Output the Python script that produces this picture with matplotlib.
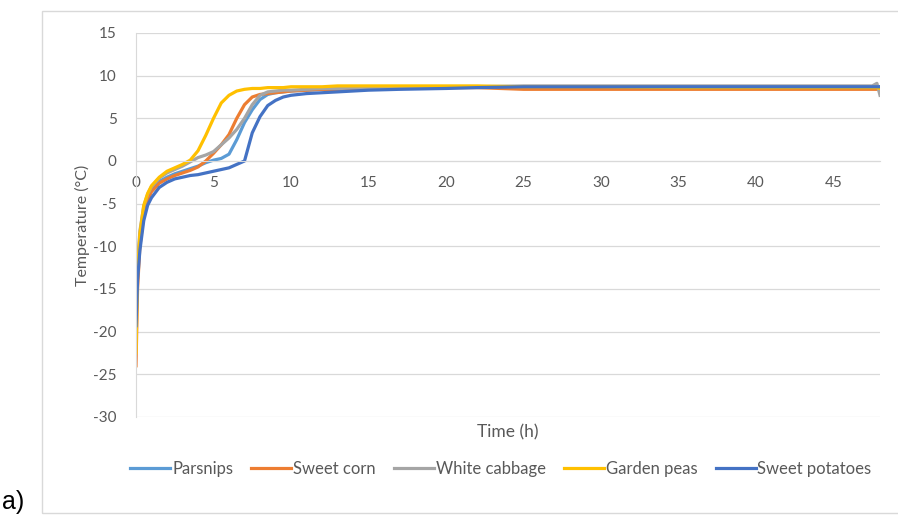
import matplotlib.pyplot as plt
from matplotlib.patches import Rectangle

plt.rcParams['font.family'] = ['Lato', 'DejaVu Sans']
plt.rcParams['axes.unicode_minus'] = False

# time (h) and temperature (°C)
t = [0, 0.1, 0.25, 0.5, 0.75, 1, 1.5, 2, 2.5, 3, 3.5, 4, 4.5, 5, 5.5, 6, 6.5, 7,
     7.5, 8, 8.5, 9, 9.5, 10, 11, 12, 13, 15, 17, 20, 22, 25, 30, 35, 40, 45,
     47.5, 47.8, 48]

parsnips = [-16, -12.5, -9, -5.8, -4.3, -3.4, -2.4, -1.9, -1.5, -1.2, -0.9, -0.6,
            -0.2, 0.1, 0.3, 0.8, 2.5, 4.5, 6.0, 7.2, 7.8, 8.0, 8.1, 8.2, 8.3, 8.4,
            8.4, 8.5, 8.6, 8.6, 8.7, 8.7, 8.7, 8.7, 8.7, 8.7, 8.7, 8.7, 8.7]
sweet_corn = [-24, -15, -10, -6.3, -4.6, -3.6, -2.6, -2.1, -1.7, -1.4, -1.1, -0.7,
              0.0, 0.9, 1.9, 3.1, 5.0, 6.6, 7.5, 7.8, 7.9, 8.0, 8.1, 8.2, 8.3, 8.4,
              8.4, 8.5, 8.5, 8.6, 8.6, 8.4, 8.4, 8.4, 8.4, 8.4, 8.4, 8.4, 8.4]
white_cabbage = [-19, -12, -8.2, -5.3, -3.9, -3.0, -2.0, -1.4, -1.0, -0.6, -0.1, 0.4,
                 0.7, 1.1, 1.9, 2.7, 3.7, 5.0, 6.6, 7.7, 8.1, 8.2, 8.3, 8.3, 8.4, 8.5,
                 8.5, 8.6, 8.6, 8.7, 8.7, 8.8, 8.8, 8.8, 8.8, 8.8, 8.8, 9.1, 7.7]
garden_peas = [-22.5, -13, -8.5, -5.2, -3.8, -2.9, -1.9, -1.2, -0.8, -0.4, 0.1, 1.2,
               3.0, 5.0, 6.8, 7.7, 8.2, 8.4, 8.5, 8.5, 8.6, 8.6, 8.6, 8.7, 8.7, 8.7,
               8.8, 8.8, 8.8, 8.8, 8.8, 8.7, 8.7, 8.6, 8.6, 8.6, 8.6, 8.6, 8.5]
sweet_potatoes = [-19.3, -14, -10.5, -7.0, -5.2, -4.3, -3.1, -2.5, -2.1, -1.9, -1.7,
                  -1.6, -1.4, -1.2, -1.0, -0.8, -0.4, 0.0, 3.3, 5.2, 6.5, 7.1, 7.5,
                  7.7, 7.9, 8.0, 8.1, 8.3, 8.4, 8.5, 8.6, 8.7, 8.7, 8.7, 8.7, 8.7,
                  8.7, 8.7, 8.7]

names = ['Parsnips', 'Sweet corn', 'White cabbage', 'Garden peas', 'Sweet potatoes']
series = [parsnips, sweet_corn, white_cabbage, garden_peas, sweet_potatoes]
colors = ['#5B9BD5', '#ED7D31', '#A5A5A5', '#FFC000', '#4472C4']

fig = plt.figure(figsize=(8.98, 5.16), dpi=100)
ax = fig.add_axes([136 / 898, 1 - 417 / 516, (880 - 136) / 898, (417 - 33) / 516])

for name, ys, c in zip(names, series, colors):
    ax.plot(t, ys, color=c, lw=2.3, label=name, solid_joinstyle='round')

ax.set_xlim(0, 48)
ax.set_ylim(-30, 15)
ax.set_xticks(range(0, 50, 5))
ax.set_yticks(range(-30, 20, 5))
ax.grid(axis='y', color='#D9D9D9', lw=0.9)
ax.set_axisbelow(True)

for s in ['top', 'right']:
    ax.spines[s].set_visible(False)
ax.spines['left'].set_color('#D9D9D9')
ax.spines['bottom'].set_color('#D9D9D9')
ax.spines['bottom'].set_position(('data', 0))
ax.tick_params(length=0, labelsize=11, labelcolor='#595959')
ax.tick_params(axis='x', pad=11)
ax.tick_params(axis='y', pad=14)

ax.set_ylabel('Temperature (°C)', fontsize=11.5, color='#595959', labelpad=2)
fig.text(508 / 898, 1 - 432 / 516, 'Time (h)', ha='center', va='center',
         fontsize=12.5, color='#595959')

fig.legend(loc='center', bbox_to_anchor=(501 / 898, 1 - 469 / 516), ncol=5,
           frameon=False, fontsize=12, labelcolor='#595959', handlelength=2.4,
           handletextpad=0.1, columnspacing=1.1)

fig.patches.append(Rectangle((42 / 898, 1 - 513 / 516), 1, (513 - 11) / 516,
                             transform=fig.transFigure, fill=False,
                             edgecolor='#D9D9D9', lw=1))
fig.text(2 / 898, 1 - 502 / 516, 'a)', fontsize=18, family='Liberation Sans',
         va='center', ha='left')

fig.savefig('out.png', dpi=100)
